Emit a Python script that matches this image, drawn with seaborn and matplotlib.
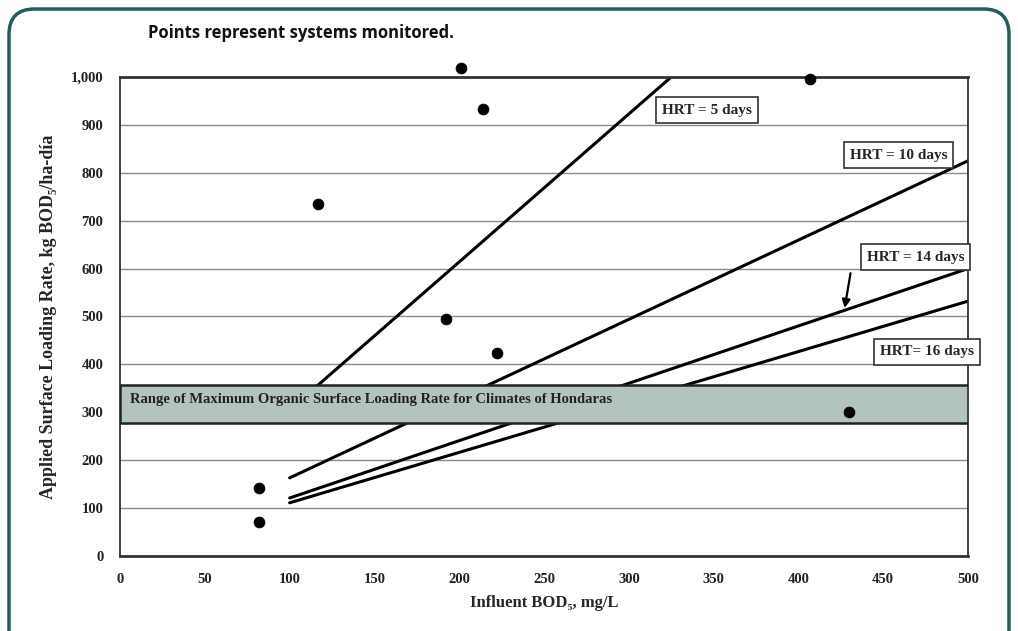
import matplotlib
matplotlib.use("Agg")
import matplotlib.pyplot as plt
import matplotlib.ticker as mticker
from matplotlib.patches import FancyBboxPatch, Rectangle
import numpy as np
import pandas as pd
import seaborn as sns

# Monitored systems (influent BOD5 mg/L, surface loading kg BOD5/ha-day)
sys_bod = [82, 82, 117, 192, 201, 214, 222, 407, 430]
sys_load = [142, 71, 735, 495, 1019, 933, 424, 996, 301]

# Design lines for each hydraulic retention time
hrt5_x = [100, 325]
hrt5_y = [305, 1000]
hrt10_x = [100, 500]
hrt10_y = [163, 825]
hrt14_x = [100, 500]
hrt14_y = [121, 600]
hrt16_x = [100, 500]
hrt16_y = [111, 532]

# Band of maximum organic surface loading rate
band_low = 278
band_high = 357

x_ticks = list(range(0, 501, 50))
y_ticks = list(range(0, 1001, 100))


def main():
    sns.set_style("white")
    serif = ["Liberation Serif", "DejaVu Serif"]
    plt.rcParams["font.family"] = serif

    fig = plt.figure(figsize=(10.18, 6.31), dpi=100)
    ax = fig.add_axes([0.1179, 0.1189, 0.8330, 0.7591])

    lines = pd.DataFrame({
        "x": hrt5_x + hrt10_x + hrt14_x + hrt16_x,
        "y": hrt5_y + hrt10_y + hrt14_y + hrt16_y,
        "HRT": ["5"] * 2 + ["10"] * 2 + ["14"] * 2 + ["16"] * 2,
    })
    sns.lineplot(data=lines, x="x", y="y", units="HRT", estimator=None,
                 color="black", linewidth=2.2, ax=ax, zorder=2, legend=False)

    # shaded band hides the lines behind it
    ax.add_patch(Rectangle((0, band_low), 500, band_high - band_low,
                           facecolor="#b3c3be", edgecolor="#222222",
                           linewidth=1.8, zorder=3))
    ax.text(6, (band_low + band_high) / 2 + 10,
            "Range of Maximum Organic Surface Loading Rate for Climates of Hondaras",
            fontsize=10.5, fontweight="bold", va="center", ha="left", zorder=4,
            color="#222222")

    pts = pd.DataFrame({"bod": sys_bod, "load": sys_load})
    sns.scatterplot(data=pts, x="bod", y="load", color="black", s=60,
                    edgecolor="black", ax=ax, zorder=5, clip_on=False)

    box = dict(boxstyle="square,pad=0.4", facecolor="white",
               edgecolor="#333333", linewidth=1.2)
    ax.text(346, 931, "HRT = 5 days", fontsize=11, fontweight="bold",
            ha="center", va="center", bbox=box, zorder=6)
    ax.text(459, 837, "HRT = 10 days", fontsize=11, fontweight="bold",
            ha="center", va="center", bbox=box, zorder=6)
    ax.text(469, 624, "HRT = 14 days", fontsize=11, fontweight="bold",
            ha="center", va="center", bbox=box, zorder=6, clip_on=False)
    ax.text(476, 426, "HRT= 16 days", fontsize=11, fontweight="bold",
            ha="center", va="center", bbox=box, zorder=6, clip_on=False)
    ax.annotate("", xy=(427, 512), xytext=(431, 596),
                arrowprops=dict(arrowstyle="-|>", color="black", lw=1.6,
                                mutation_scale=12), zorder=6)

    ax.set_xlim(0, 500)
    ax.set_ylim(0, 1000)
    ax.set_xticks(x_ticks)
    ax.set_yticks(y_ticks)
    ax.yaxis.set_major_formatter(mticker.FuncFormatter(lambda v, p: f"{v:,.0f}"))
    ax.yaxis.grid(True, color="#8a8a8a", linewidth=1.0)
    ax.xaxis.grid(False)
    ax.set_axisbelow(True)
    ax.tick_params(axis="both", which="major", labelsize=10.5, length=4,
                   width=1, direction="out", color="#444444")
    ax.tick_params(axis="x", pad=8)
    ax.tick_params(axis="y", pad=8)
    for lab in ax.get_xticklabels() + ax.get_yticklabels():
        lab.set_fontweight("bold")
        lab.set_color("#222222")
    for sp in ax.spines.values():
        sp.set_visible(True)
        sp.set_color("#333333")
        sp.set_linewidth(1.3)
    ax.spines["top"].set_linewidth(2.0)
    ax.spines["bottom"].set_linewidth(2.0)

    ax.set_xlabel("Influent BOD\u2085, mg/L", fontsize=12, fontweight="bold",
                  labelpad=7)
    ax.set_ylabel("Applied Surface Loading Rate, kg BOD\u2085/ha-día",
                  fontsize=13, fontweight="bold", labelpad=10)

    fig.text(148 / 1018, 1 - 33 / 631, "Points represent systems monitored.",
             fontsize=12, fontweight="bold", family=["Open Sans", "DejaVu Sans"],
             ha="left", va="center", color="#111111")

    # rounded teal frame open at the bottom
    frame = FancyBboxPatch((9 / 1018, -0.05), 1000 / 1018, 1.05 - 9 / 631,
                           boxstyle="round,pad=0,rounding_size=0.025",
                           transform=fig.transFigure, facecolor="none",
                           edgecolor="#1f5f5a", linewidth=2.5,
                           mutation_aspect=1018 / 631)
    fig.patches.append(frame)

    fig.savefig("out.png", dpi=100)


if __name__ == "__main__":
    main()
